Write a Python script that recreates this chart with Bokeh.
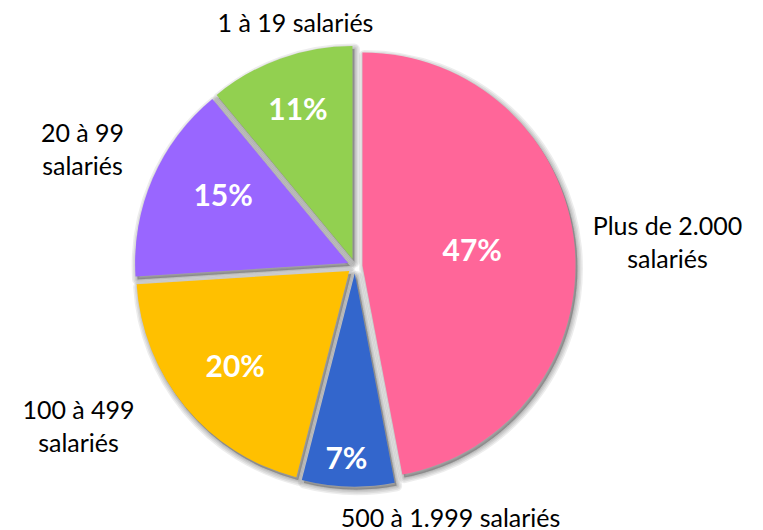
import numpy as np
from bokeh.plotting import figure
from bokeh.models import Range1d, ColumnDataSource
from bokeh.core.properties import value
from bokeh.embed import file_html
from bokeh.resources import INLINE

# ---- data ----
categories = ["Plus de 2.000 salariés", "500 à 1.999 salariés", "100 à 499 salariés",
              "20 à 99 salariés", "1 à 19 salariés"]
shares = [47, 7, 20, 15, 11]
colors = ["#FF6699", "#3366CC", "#FFC000", "#9966FF", "#92D050"]

# ---- layout (not data) ----
label_lines = [["Plus de 2.000", "salariés"], ["500 à 1.999 salariés"], ["100 à 499", "salariés"],
               ["20 à 99", "salariés"], ["1 à 19 salariés"]]
label_anchor = [(667, 241), (450, 516), (78, 425), (82, 148), (295, 21)]  # screen px (centre of block)
pct_dist = [111, 184, 148, 143, 161]
pct_ang_off = [-3.1, 0.8, 0.0, 5.7, 0.0]   # degrees, clockwise
W, H = 763, 530
CX, CY = 354.5, H - 265.6
R = 213
EXPL = 7.5
FONT = "Lato"

p = figure(width=W, height=H, x_range=Range1d(0, W), y_range=Range1d(0, H),
           output_backend="svg", toolbar_location=None, min_border=0)
p.axis.visible = False
p.grid.visible = False
p.outline_line_color = None
p.background_fill_color = "white"

vals = np.array(shares, dtype=float)
frac = vals / vals.sum()
cum = np.concatenate([[0], np.cumsum(frac)]) * 2 * np.pi   # clockwise from top
t1, t2 = cum[:-1], cum[1:]
tm = (t1 + t2) / 2
start = np.pi / 2 - t2
end = np.pi / 2 - t1
cx = CX + EXPL * np.sin(tm)
cy = CY + EXPL * np.cos(tm)

src = ColumnDataSource(dict(x=cx, y=cy, start=start, end=end, color=colors))

# soft shadow
for k, lw in enumerate([11, 8, 5, 2.5]):
    sh = ColumnDataSource(dict(x=cx + 2.0, y=cy - 3.0, start=start, end=end))
    p.wedge(x="x", y="y", radius=R, radius_units="screen", start_angle="start", end_angle="end",
            source=sh, fill_color="black", fill_alpha=0.07, line_color="black",
            line_alpha=0.07, line_width=lw, line_join="round")

p.wedge(x="x", y="y", radius=R, radius_units="screen", start_angle="start", end_angle="end",
        source=src, fill_color="color", line_color=None)

# percentage labels
ta = tm + np.radians(pct_ang_off)
px = cx + np.array(pct_dist) * np.sin(ta)
py = cy + np.array(pct_dist) * np.cos(ta)
ptxt = [f"{int(v)}%" for v in shares]
p.text(x=px, y=py, text=ptxt, text_color="white", text_font=value(FONT), text_font_style="bold",
       text_font_size="30px", text_align="center", text_baseline="middle")

# category labels
lx, ly, lt = [], [], []
for lines, (ax, ay) in zip(label_lines, label_anchor):
    n = len(lines)
    for i, s in enumerate(lines):
        yy = ay + (i - (n - 1) / 2) * 33
        lx.append(ax)
        ly.append(H - yy)
        lt.append(s)
p.text(x=lx, y=ly, text=lt, text_color="black", text_font=value(FONT),
       text_font_size="25px", text_align="center", text_baseline="middle")

open("out.html", "w").write(file_html(p, INLINE))
